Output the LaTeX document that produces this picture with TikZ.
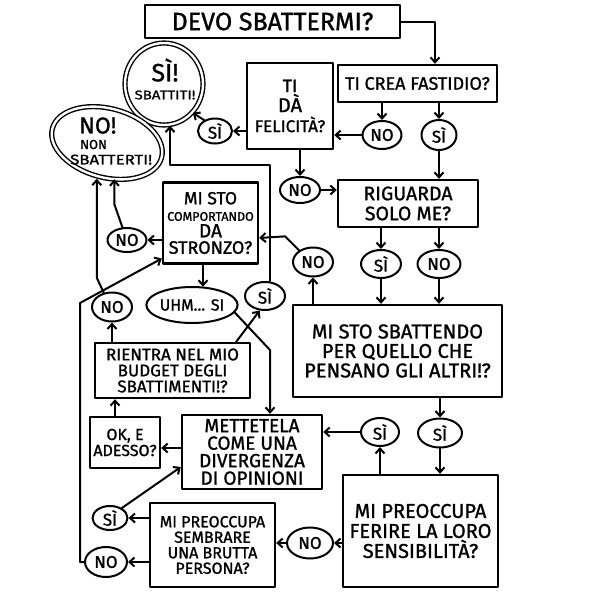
\documentclass[tikz,border=0pt]{standalone}
\usepackage{fontspec}
\setmainfont{Fira Sans}[FakeBold=1.2]
\newfontfamily\widefont{Fira Sans}[FakeBold=1.2,FakeStretch=1.2]
\usetikzlibrary{shapes.geometric,arrows.meta}
\newcommand\fz[2]{\fontsize{#1}{#2}\selectfont}
\begin{document}
\begin{tikzpicture}[x=1pt,y=-1pt,
  line cap=round, line join=round,
  box/.style={draw, line width=2.4pt, rectangle, inner sep=0pt, align=center},
  lab/.style={draw, ellipse, line width=2pt, inner sep=0pt, font=\fz{17}{17}},
  term/.style={draw, ellipse, line width=1.4pt, double, double distance=2.4pt, inner sep=0pt},
  arr/.style={line width=2pt, -{Straight Barb[length=5pt,width=9pt]}}]
\useasboundingbox (0,0) rectangle (600,600);
% boxes
\node[box, minimum width=255, minimum height=33, font=\fz{25}{25}] (q0) at (272.5,21.5) {DEVO SBATTERMI?};
\node[box, minimum width=159, minimum height=37, font=\fz{18}{18}] (q1) at (417.5,83.5) {TI CREA FASTIDIO?};
\node[box, minimum width=86, minimum height=86, font=\fz{17}{20}] (q2) at (290,106) {\fz{18}{20}TI\\\fz{20}{20}DÀ\\\fz{17}{20}FELICITÀ?};
\node[box, minimum width=140, minimum height=47, font=\fz{19.5}{20}] (q3) at (408,203.5) {RIGUARDA\\SOLO ME?};
\node[box, minimum width=95, minimum height=81, font=\fz{12.5}{16.5}] (q4) at (210.5,223) {\fz{17.5}{16}MI STO\\\fz{12.5}{15}COMPORTANDO\\\fz{19}{17}DA\\\fz{18}{18}STRONZO?};
\node[box, minimum width=209, minimum height=92, font=\fz{20}{19.5}] (q5) at (397.5,351) {MI STO SBATTENDO\\PER QUELLO CHE\\PENSANO GLI ALTRI!?};
\node[box, minimum width=155, minimum height=55, font=\fz{17}{16}] (q6) at (172.5,370.5) {RIENTRA NEL MIO\\BUDGET DEGLI\\SBATTIMENTI!?};
\node[box, minimum width=70, minimum height=51, font=\fz{16}{16}] (q7) at (125,442.5) {OK, E\\ADESSO?};
\node[box, minimum width=140, minimum height=74, font=\fz{19}{17.5}] (q8) at (252,452) {METTETELA\\COME UNA\\DIVERGENZA\\DI OPINIONI};
\node[box, minimum width=155, minimum height=112, font=\fz{20}{20}] (q9) at (420.5,531) {MI PREOCCUPA\\FERIRE LA LORO\\SENSIBILITÀ?};
\node[box, minimum width=125, minimum height=84, font=\fz{16}{15.5}] (q10) at (212.5,545) {MI PREOCCUPA\\SEMBRARE\\UNA BRUTTA\\PERSONA?};
% terminals
\node[term, minimum width=78, minimum height=82] (t1) at (164,84) {};
\node[align=center, inner sep=0pt, font=\fz{12.5}{18}] (t1t) at (165,79) {\fz{25}{25}SÌ!\\\widefont\fz{12.5}{18}SBATTITI!};
\node[term, rotate=-15, minimum width=113, minimum height=69] (t2) at (107,143) {};
\node[align=left, inner sep=0pt, anchor=west, font=\fz{13}{15.5}] (t2t) at (70,141) {\hspace*{9pt}\fz{23}{23}NO!\\\hspace*{10pt}\fz{13}{15}NON\\\widefont\fz{14}{15}SBATTERTI!};
% yes/no labels
\node[lab, minimum width=39, minimum height=28] (e1) at (382,135) {NO};
\node[lab, minimum width=35, minimum height=30] (e2) at (439,135) {SÌ};
\node[lab, minimum width=34, minimum height=25] (e3) at (215,131) {SÌ};
\node[lab, minimum width=40, minimum height=26] (e4) at (300,190) {NO};
\node[lab, minimum width=39, minimum height=24] (e5) at (127,240) {NO};
\node[lab, minimum width=40, minimum height=29] (e6) at (313,262) {NO};
\node[lab, minimum width=40, minimum height=28] (e7) at (381,264) {SÌ};
\node[lab, minimum width=43, minimum height=28] (e8) at (439,264) {NO};
\node[lab, minimum width=81, minimum height=36, font=\fz{16}{16}] (e9) at (192,305) {UHM... SI};
\node[lab, minimum width=40, minimum height=28] (e10) at (265,296) {SÌ};
\node[lab, minimum width=40, minimum height=29] (e11) at (112,307) {NO};
\node[lab, minimum width=38, minimum height=28] (e12) at (380,432) {SÌ};
\node[lab, minimum width=44, minimum height=29] (e13) at (440,433) {SÌ};
\node[lab, minimum width=46, minimum height=31] (e14) at (310,543) {NO};
\node[lab, minimum width=35, minimum height=24] (e15) at (110,518) {SÌ};
\node[lab, minimum width=42, minimum height=30] (e16) at (106,562) {NO};
\coordinate (b1) at (270,165);
\coordinate (b2) at (270,350);
\coordinate (b3) at (80,303);
% connectors
\draw[arr] (q0.east) -| ([xshift=17.5pt]q1.north);
\draw[arr] (q1.south -| e1) -- (e1.north);
\draw[arr] (q1.south -| e2) -- (e2.north);
\draw[arr] (e1.west) -- (e1.west -| q2.east);
\draw[arr] (e2.south) -- (e2.south |- q3.north);
\draw[arr] (q2.west |- e3) -- (e3.east);
\draw[arr] (e3.135) -- (t1.-45);
\draw[arr] (q2.south -| e4) -- (e4.north);
\draw[arr] (e4.east) -- (e4.east -| q3.west);
\draw[arr] (q3.south -| e7) -- (e7.north);
\draw[arr] (q3.south -| e8) -- (e8.north);
\draw[arr] (e7.south) -- (e7.south |- q5.north);
\draw[arr] (e8.south) -- (e8.south |- q5.north);
\draw[arr] (q5.north -| e6) -- (e6.south);
\draw[arr] (e6.140) -- ++(-14,-14) -- ([yshift=-15pt]q4.east);
\draw[arr] (q4.west |- e5) -- (e5.east);
\draw[arr] (e5.110) -- ++(-8,-23) -- ++(0,-25);
\draw[arr] (e11.120) -- ++(-7,-15) -- ++(0,-99);
\draw[arr] (q6.north -| e11) -- (e11.south);
\draw[arr] ([xshift=-15pt]q6.north east) -- (e10.250);
\draw[arr] (e10.north -| b1) -- (b1) -| ([xshift=6pt]t1.south);
\draw[arr] ([xshift=-7.5pt]q4.south) -- ++(0,22);
\draw[arr] (e9.-10) -- (b2) -- (b2 |- q8.north);
\draw[arr] ([xshift=-10pt]q7.north) -- ([xshift=-10pt]q7.north |- q6.south);
\draw[arr] ([yshift=4pt]q8.west) -- ([yshift=4pt]q8.west -| q7.east);
\draw[arr] (e12.west) -- (e12.west -| q8.east);
\draw[arr] (q9.north -| e12) -- (e12.south);
\draw[arr] (q5.south -| e13) -- (e13.north);
\draw[arr] (e13.south) -- (e13.south |- q9.north);
\draw[arr] (q9.west |- e14) -- (e14.east);
\draw[arr] (e14.west) -- (e14.west -| q10.east);
\draw[arr] (q10.west |- e15) -- (e15.east);
\draw[arr] (q10.west |- e16) -- (e16.east);
\draw[arr] (e15.40) -- ([yshift=-15pt]q8.west);
\draw[arr] (e16.west) -| (b3) -- ([yshift=-35.5pt]q4.west);
\end{tikzpicture}
\end{document}
